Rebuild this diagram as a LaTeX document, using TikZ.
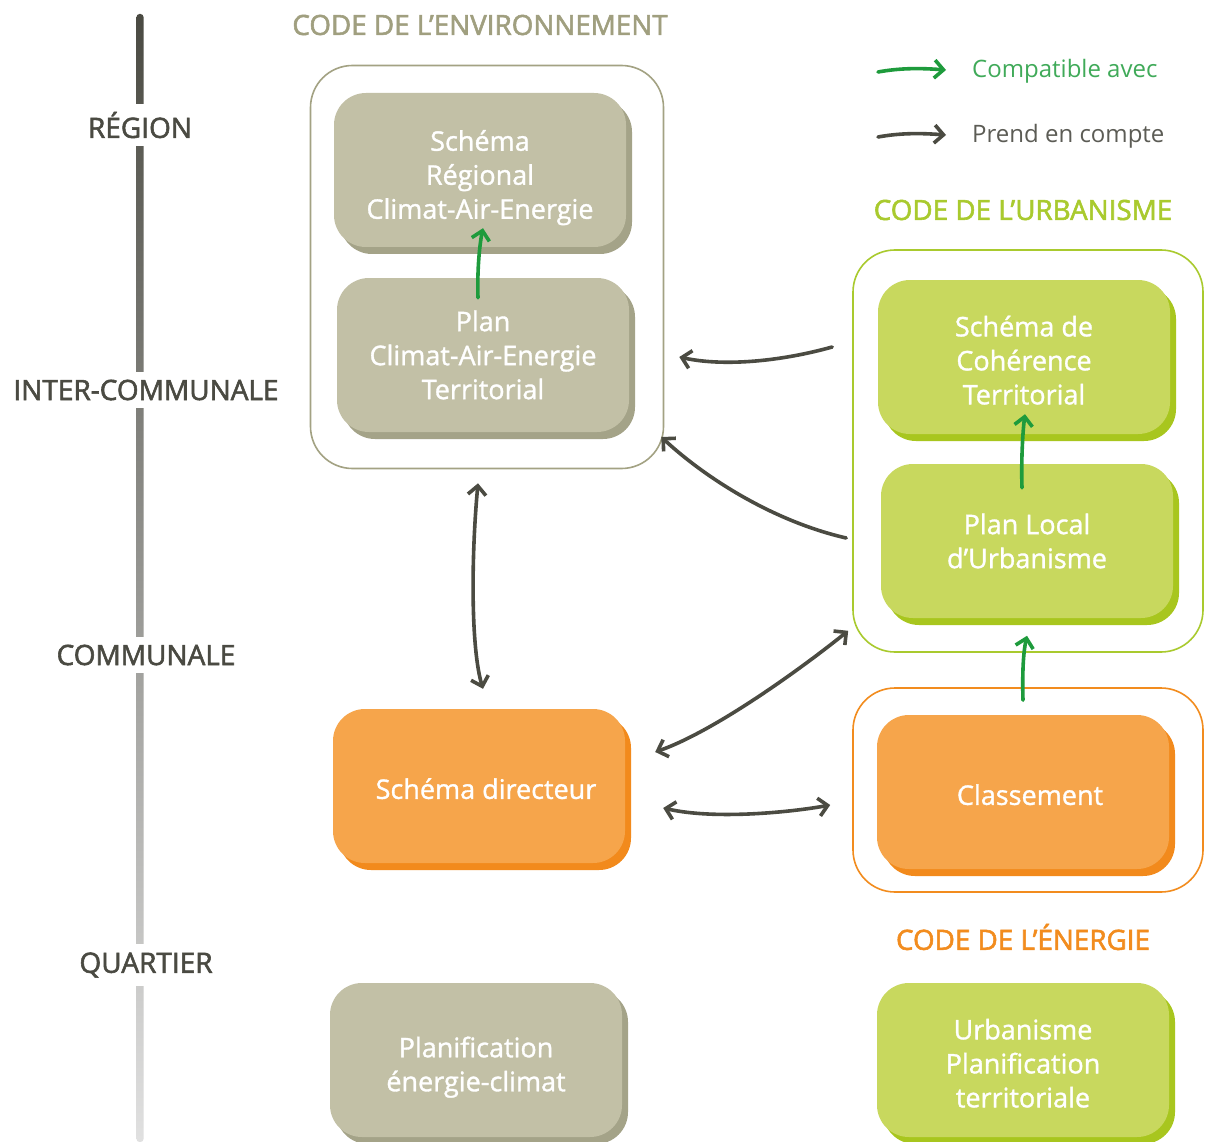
\documentclass[tikz,border=0pt]{standalone}
\usepackage{fontspec}
\setmainfont[FakeBold=1.2]{Open Sans}
\newfontfamily\semifont[FakeBold=2]{Open Sans}
\newfontfamily\regfont{Open Sans}
\usetikzlibrary{arrows.meta,shadows,calc}
\definecolor{grayfill}{HTML}{C2C0A6}
\definecolor{grayshadow}{HTML}{A4A388}
\definecolor{graystroke}{HTML}{A3A283}
\definecolor{graytitle}{HTML}{A09F7F}
\definecolor{greenfill}{HTML}{C8D85E}
\definecolor{greenshadow}{HTML}{A8C61E}
\definecolor{greenstroke}{HTML}{A9CA2E}
\definecolor{orangefill}{HTML}{F6A54B}
\definecolor{orangeshadow}{HTML}{F28A1C}
\definecolor{orangestroke}{HTML}{F28C1E}
\definecolor{darkarrow}{HTML}{4B4B42}
\definecolor{greenarrow}{HTML}{1E9B3C}
\definecolor{labelcol}{HTML}{4A4A42}
\tikzset{
  box/.style={rounded corners=32pt, minimum width=292pt, minimum height=154pt,
    text=white, align=center, inner sep=0pt,
    font=\fontsize{27}{34}\selectfont},
  graybox/.style={box, fill=grayfill,
    drop shadow={shadow xshift=6pt, shadow yshift=-7pt, fill=grayshadow, opacity=1}},
  greenbox/.style={box, fill=greenfill,
    drop shadow={shadow xshift=6pt, shadow yshift=-7pt, fill=greenshadow, opacity=1}},
  orangebox/.style={box, fill=orangefill,
    drop shadow={shadow xshift=6pt, shadow yshift=-7pt, fill=orangeshadow, opacity=1}},
  outer/.style={draw, line width=1.6pt, rounded corners=42pt, inner sep=0pt},
  levellabel/.style={fill=white, text=labelcol, inner xsep=4pt, inner ysep=8pt,
    font=\semifont\fontsize{28}{30}\selectfont},
  codetitle/.style={font=\semifont\fontsize{27.8}{30}\selectfont, inner sep=0pt},
  pec/.style={draw=darkarrow, line width=3.6pt, line cap=round,
    -{Straight Barb[length=9pt,width=18pt,line width=3.6pt]}},
  pecboth/.style={draw=darkarrow, line width=3.6pt, line cap=round,
    {Straight Barb[length=9pt,width=18pt,line width=3.6pt]}-{Straight Barb[length=9pt,width=18pt,line width=3.6pt]}},
  compat/.style={draw=greenarrow, line width=3.6pt, line cap=round,
    -{Straight Barb[length=9pt,width=18pt,line width=3.6pt]}},
  legtext/.style={font=\regfont\fontsize{24}{28}\selectfont, anchor=west, inner sep=0pt}
}
\begin{document}
\begin{tikzpicture}[x=1pt,y=-1pt]
\useasboundingbox[fill=white] (0,0) rectangle (1205,1142);
% scale bar
\shade[top color=labelcol, bottom color=black!12, rounded corners=3pt] (136.5,14) rectangle (143.5,1142);
\node[levellabel] (region) at (140,125) {RÉGION};
\node[levellabel] (inter) at (146,390) {INTER-COMMUNALE};
\node[levellabel] (commu) at (146,655) {COMMUNALE};
\node[levellabel] (quart) at (146,965) {QUARTIER};

% code titles
\node[codetitle, text=graytitle] (envtitle) at (480,25) {CODE DE L’ENVIRONNEMENT};
\node[codetitle, text=greenstroke] (urbtitle) at (1023,210) {CODE DE L’URBANISME};
\node[codetitle, text=orangestroke] (entitle) at (1023,937) {CODE DE L’ÉNERGIE};

% outer frames
\node[outer, draw=graystroke, minimum width=353pt, minimum height=403pt] (envbox) at (487,267) {};
\node[outer, draw=greenstroke, minimum width=350pt, minimum height=402pt] (urbbox) at (1028,451) {};
\node[outer, draw=orangestroke, minimum width=350pt, minimum height=204pt] (enbox) at (1028,790) {};

% boxes
\node[graybox] (srcae) at (480,170) {\rule{0pt}{36pt}Schéma\\Régional\\Climat-Air-Energie};
\node[graybox] (pcaet) at (483,355) {Plan\\Climat-Air-Energie\\Territorial};
\node[greenbox] (scot) at (1024,357) {\rule{0pt}{27pt}Schéma de\\Cohérence\\Territorial};
\node[greenbox] (plu) at (1027,541) {Plan Local\\d’Urbanisme};
\node[orangebox] (sd) at (479,786) {\hspace*{14pt}\rule{0pt}{26pt}Schéma directeur};
\node[orangebox] (classe) at (1023,792) {\hspace*{14pt}\rule{0pt}{26pt}Classement};
\node[graybox] (pec) at (476,1060) {\rule{0pt}{35pt}Planification\\énergie-climat};
\node[greenbox] (upt) at (1023,1060) {\rule{0pt}{27pt}Urbanisme\\Planification\\territoriale};

% green arrows (compatible avec)
\draw[compat] ($(pcaet.north)+(-5,20)$) .. controls ($(pcaet.north)+(-6,-10)$) and ($(srcae.south)+(0,-5)$) .. ($(srcae.south)+(3,-19)$);
\draw[compat] ($(plu.north)+(-5,24)$) .. controls ($(plu.north)+(-6,-5)$) and ($(scot.south)+(-1,-5)$) .. ($(scot.south)+(1,-20)$);
\draw[compat] ($(enbox.north)+(-5,13)$) .. controls ($(enbox.north)+(-6,-20)$) and ($(urbbox.south)+(-4,-4)$) .. ($(urbbox.south)+(-1,-17)$);

% dark arrows (prend en compte)
\draw[pec] ($(urbbox.west)+(-20,-104)$) .. controls ($(urbbox.west)+(-70,-90)$) and ($(envbox.east)+(60,100)$) .. ($(envbox.east)+(15,90)$);
\draw[pec] ($(urbbox.west)+(-6,87)$) .. controls ($(urbbox.west)+(-80,70)$) and ($(envbox.east)+(40,210)$) .. ($(envbox.east)+(-3,170)$);
\draw[pecboth] ($(envbox.south)+(-9,14)$) .. controls ($(envbox.south)+(-16,90)$) and ($(sd.north)+(-8,-60)$) .. ($(sd.north)+(4,-20)$);
\draw[pecboth] ($(sd.east)+(30,-34)$) .. controls ($(sd.east)+(90,-55)$) and ($(urbbox.south west)+(-50,15)$) .. ($(urbbox.south west)+(-4,-22)$);
\draw[pecboth] ($(sd.east)+(38,22)$) .. controls ($(sd.east)+(90,34)$) and ($(enbox.west)+(-60,22)$) .. ($(enbox.west)+(-22,15)$);

% legend
\node[legtext, text=greenarrow!85!white] (leg1) at (972,71) {Compatible avec};
\node[legtext, text=labelcol!90!white] (leg2) at (972,136) {Prend en compte};
\coordinate (leg1start) at (878,72);
\coordinate (leg2start) at (878,137);
\draw[compat] (leg1start) .. controls (900,68) and (920,68) .. ($(leg1.west)+(-26,-1)$);
\draw[pec] (leg2start) .. controls (900,133) and (920,133) .. ($(leg2.west)+(-26,-1)$);
\end{tikzpicture}
\end{document}
